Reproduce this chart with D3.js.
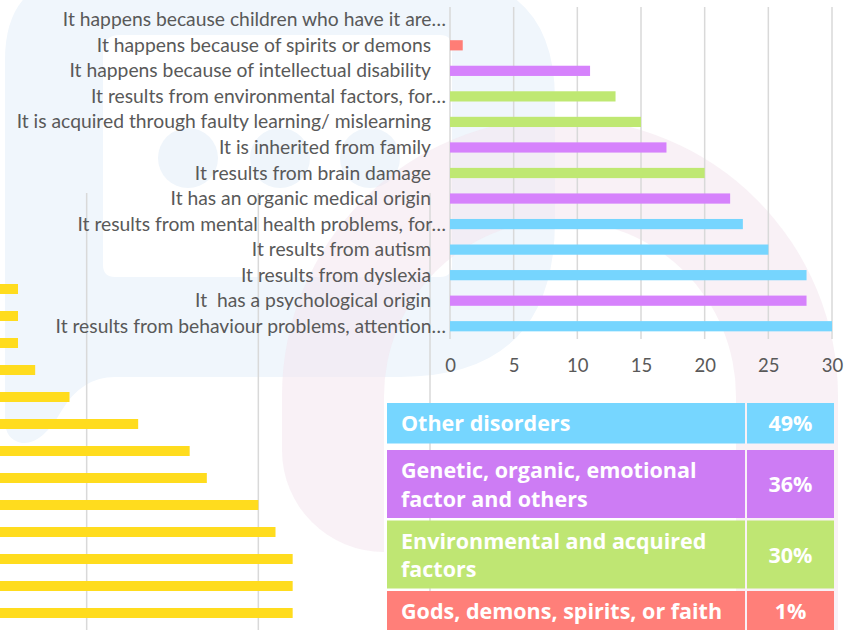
<!DOCTYPE html>
<html>
<head>
<meta charset="utf-8">
<script src="https://cdn.jsdelivr.net/npm/d3@7"></script>
<style>
html, body { margin: 0; padding: 0; background: #fff; }
svg { display: block; }
</style>
</head>
<body>
<svg id="chart" width="845" height="630"></svg>
<script>
// ---- data ----
var causes = [
  "It happens because children who have it are…",
  "It happens because of spirits or demons",
  "It happens because of intellectual disability",
  "It results from environmental factors, for…",
  "It is acquired through faulty learning/ mislearning",
  "It is inherited from family",
  "It results from brain damage",
  "It has an organic medical origin",
  "It results from mental health problems, for…",
  "It results from autism",
  "It results from dyslexia",
  "It  has a psychological origin",
  "It results from behaviour problems, attention…"
];
var counts = [0, 1, 11, 13, 15, 17, 20, 22, 23, 25, 28, 28, 30];
var causeGroup = ["faith", "faith", "genetic", "environment", "environment", "genetic",
  "environment", "genetic", "other", "other", "other", "genetic", "other"];
var xTicks = [0, 5, 10, 15, 20, 25, 30];

// the cropped yellow chart behind, on the left
var yellowValues = [6, 6, 6, 7, 9, 13, 16, 17, 20, 21, 22, 22, 22];
var yellowTicks = [10, 20, 30];

// summary table
var groupKeys = ["other", "genetic", "environment", "faith"];
var groupLines = [
  ["Other disorders"],
  ["Genetic, organic, emotional", "factor and others"],
  ["Environmental and acquired", "factors"],
  ["Gods, demons, spirits, or faith"]
];
var groupShares = ["49%", "36%", "30%", "1%"];

var colour = d3.scaleOrdinal()
  .domain(groupKeys)
  .range(["#76d5fe", "#d682fc", "#bfe872", "#ff7d76"]);
var cellColour = d3.scaleOrdinal()
  .domain(groupKeys)
  .range(["#76d6ff", "#cd7cf4", "#bfe673", "#ff7f79"]);

var svg = d3.select("#chart");

// ---- watermark in the background ----
var bg = svg.append("g");
bg.append("path")
  .attr("fill", "#f0f6fc")
  .attr("fill-rule", "evenodd")
  .attr("d", "M5,60 Q5,-25 90,-25 L430,-25 Q555,-25 555,100 L555,220 Q555,377 400,377 " +
             "L115,377 Q82,377 62,410 Q42,445 22,443 Q5,440 5,420 Z " +
             "M120,35 L440,35 Q452,35 452,47 L452,265 Q452,277 440,277 L115,277 Q103,277 103,265 L103,52 Q103,35 120,35 Z");
bg.selectAll("circle")
  .data([188, 280, 370])
  .enter().append("circle")
    .attr("cx", function(d) { return d; })
    .attr("cy", 158)
    .attr("r", 30)
    .attr("fill", "#eff5fb");
bg.append("path")
  .attr("fill", "#f4e4ee")
  .attr("fill-opacity", 0.5)
  .attr("d", "M282,396 A278,278 0 0 1 838,396 L838,640 L736,640 L736,396 A176,176 0 0 0 384,396 " +
             "L384,552 A102,102 0 0 1 282,450 Z");

// ---- yellow chart (cropped) ----
var yx = d3.scaleLinear().domain([0, 30]).range([-85, 430]);
var yy = d3.scaleBand().domain(d3.range(yellowValues.length))
  .range([275.5, 626.5]).paddingInner(0.63).paddingOuter(0.315);

svg.append("g").selectAll("line")
  .data(yellowTicks)
  .enter().append("line")
    .attr("x1", function(d) { return yx(d); })
    .attr("x2", function(d) { return yx(d); })
    .attr("y1", 193).attr("y2", 630)
    .attr("stroke", "#d9d9d9").attr("stroke-width", 1.5);

svg.append("g").selectAll("rect")
  .data(yellowValues)
  .enter().append("rect")
    .attr("x", yx(0))
    .attr("y", function(d, i) { return yy(i); })
    .attr("width", function(d) { return yx(d) - yx(0); })
    .attr("height", yy.bandwidth())
    .attr("fill", "#ffdc1e");

// ---- main bar chart ----
var x = d3.scaleLinear().domain([0, 30]).range([450, 832]);
var y = d3.scaleBand().domain(causes).range([7, 339]).paddingInner(0.6).paddingOuter(0.3);

var xAxis = d3.axisBottom(x).tickValues(xTicks).tickSize(0).tickPadding(0);

svg.append("g").selectAll("line")
  .data(xTicks)
  .enter().append("line")
    .attr("x1", function(d) { return x(d); })
    .attr("x2", function(d) { return x(d); })
    .attr("y1", 7).attr("y2", 339)
    .attr("stroke", "#d9d9d9").attr("stroke-width", 1.5);

svg.append("g").selectAll("rect")
  .data(causes)
  .enter().append("rect")
    .attr("x", x(0))
    .attr("y", function(d) { return y(d); })
    .attr("width", function(d, i) { return x(counts[i]) - x(0); })
    .attr("height", y.bandwidth())
    .attr("fill", function(d, i) { return colour(causeGroup[i]); });

svg.append("g").selectAll("text")
  .data(causes)
  .enter().append("text")
    .attr("x", function(d) { return d.slice(-1) == "…" ? 446 : 431; })
    .attr("y", function(d) { return y(d) + y.bandwidth() / 2 + 6.5; })
    .attr("text-anchor", "end")
    .style("white-space", "pre")
    .style("font-family", "Lato, 'Open Sans', sans-serif")
    .style("font-size", "19.3px")
    .attr("fill", "#595959")
    .text(function(d) { return d; });

var gx = svg.append("g")
  .attr("transform", "translate(0,359)")
  .call(xAxis);
gx.select(".domain").remove();
gx.selectAll("text")
  .style("font-family", "Lato, 'Open Sans', sans-serif")
  .style("font-size", "18.5px")
  .attr("fill", "#595959");

// ---- summary table ----
var rowTop = 403, gaps = [6.5, 2.5, 2.5];
var table = svg.append("g")
  .style("font-family", "'Open Sans', Lato, sans-serif")
  .style("font-weight", "bold")
  .style("font-size", "21.5px")
  .attr("fill", "#fff");

groupKeys.forEach(function(k, i) {
  var h = 13 + 27.5 * groupLines[i].length;
  var row = table.append("g");
  row.append("rect")
    .attr("x", 387).attr("y", rowTop).attr("width", 358).attr("height", h)
    .attr("fill", cellColour(k));
  row.append("rect")
    .attr("x", 747).attr("y", rowTop).attr("width", 87).attr("height", h)
    .attr("fill", cellColour(k));
  groupLines[i].forEach(function(line, j) {
    row.append("text")
      .attr("x", 401)
      .attr("y", rowTop + 28 + j * 28.5)
      .text(line);
  });
  row.append("text")
    .attr("x", 790.5)
    .attr("y", rowTop + h / 2 + 8)
    .attr("text-anchor", "middle")
    .text(groupShares[i]);
  rowTop += h + (gaps[i] || 0);
});
</script>
</body>
</html>
